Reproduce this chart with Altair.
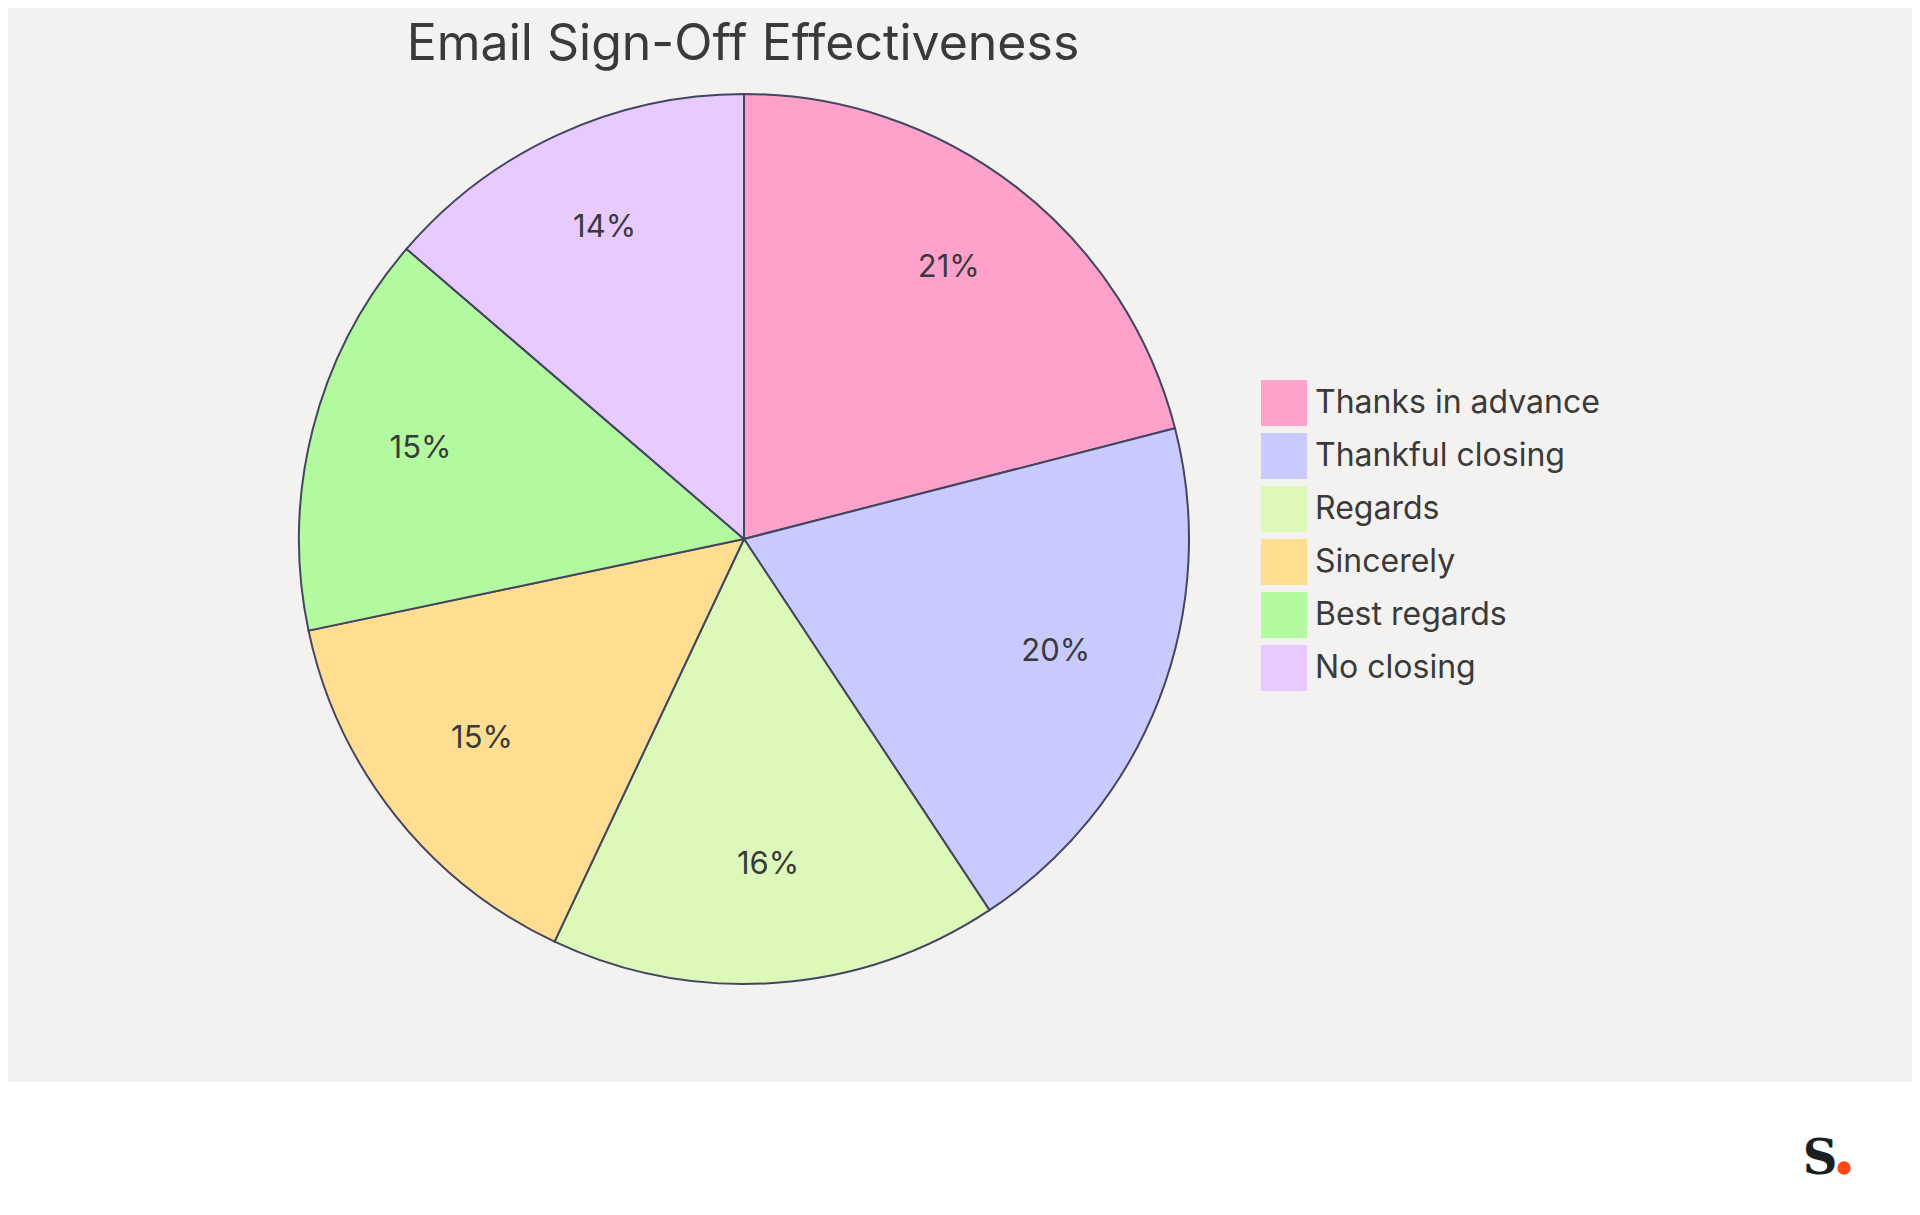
import altair as alt
import pandas as pd

# ---- data ----
labels = ["Thanks in advance", "Thankful closing", "Regards", "Sincerely", "Best regards", "No closing"]
shares = [21.0, 19.7, 16.3, 14.7, 14.6, 13.7]
pct_labels = ["21%", "20%", "16%", "15%", "15%", "14%"]
colors = ["#ffa2cb", "#c9caff", "#dcf9b9", "#ffde92", "#b3f9a0", "#e7caff"]
title_text = "Email Sign-Off Effectiveness"

df = pd.DataFrame({
    "closing": labels,
    "share": shares,
    "pct": pct_labels,
    "idx": list(range(len(labels))),
})

W, H = 1904, 1199
CX, CY, R = 736, 531, 445
FONT = "Inter"
TXT = "#3a3a3a"

base = alt.Chart(df)

arcs = base.mark_arc(radius=R, stroke="#434660", strokeWidth=2).encode(
    theta=alt.Theta("share:Q", stack=True),
    order=alt.Order("idx:O"),
    color=alt.Color(
        "closing:N",
        scale=alt.Scale(domain=labels, range=colors),
        sort=labels,
        legend=alt.Legend(
            title=None,
            orient="none",
            legendX=1253,
            legendY=372,
            symbolType="square",
            symbolSize=2116,
            symbolStrokeWidth=0,
            labelFontSize=32,
            labelFont=FONT,
            labelColor=TXT,
            labelOffset=8,
            rowPadding=7,
            padding=0,
            labelLimit=500,
        ),
    ),
    x=alt.value(CX),
    y=alt.value(CY),
)

texts = base.mark_text(radius=334, fontSize=31, font=FONT, color=TXT, dy=-7).encode(
    theta=alt.Theta("share:Q", stack=True),
    order=alt.Order("idx:O"),
    text="pct:N",
    x=alt.value(CX),
    y=alt.value(CY),
)

one = alt.Chart(pd.DataFrame({"title": [title_text]}))

white_band = one.mark_rect(color="#ffffff").encode(
    x=alt.value(0), x2=alt.value(W), y=alt.value(1074), y2=alt.value(H)
)

title = one.mark_text(
    font=FONT, fontSize=50, color=TXT, baseline="alphabetic", align="center"
).encode(text="title:N", x=alt.value(735), y=alt.value(52))

logo_s = one.mark_text(
    text="S", font="DejaVu Serif", fontWeight="bold", fontSize=48, color="#1b1e23",
    baseline="alphabetic", align="center"
).encode(x=alt.value(1812), y=alt.value(1166))

logo_dot = one.mark_circle(size=177, color="#ff4713", opacity=1).encode(
    x=alt.value(1836), y=alt.value(1160)
)

chart = alt.layer(white_band, arcs, texts, title, logo_s, logo_dot).properties(
    width=W,
    height=H,
    autosize=alt.AutoSizeParams(type="none"),
    padding=0,
    background="#f3f2f0",
).configure_view(stroke=None)

chart.save("out.html", embed_options={"renderer": "svg", "actions": False})
